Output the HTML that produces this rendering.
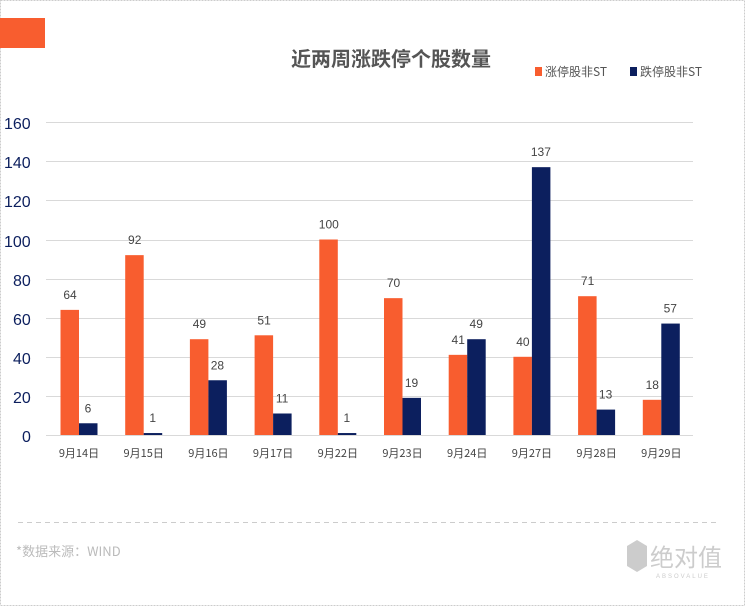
<!DOCTYPE html><html><head><meta charset="utf-8"><style>
body{margin:0;width:745px;height:606px;overflow:hidden;background:#fff;font-family:"Liberation Sans","Noto Sans CJK SC",sans-serif}
</style></head><body>
<svg width="745" height="606" xmlns="http://www.w3.org/2000/svg" font-family="Liberation Sans, Noto Sans CJK SC, sans-serif">
<rect x="0.5" y="0.5" width="744" height="605" fill="#fff" stroke="#ccc" stroke-dasharray="2,1"/>
<rect x="0" y="18" width="45" height="30" fill="#f85d2f"/>
<text x="391" y="66" font-size="20" font-weight="bold" fill="#555" text-anchor="middle" font-family="Noto Sans CJK SC, sans-serif">近两周涨跌停个股数量</text>
<rect x="535" y="67" width="7" height="9" fill="#f85d2f"/>
<text x="545" y="76" font-size="12" fill="#555" font-family="Noto Sans CJK SC, sans-serif">涨停股非ST</text>
<rect x="630" y="67" width="7" height="9" fill="#0c1f5e"/>
<text x="640" y="76" font-size="12" fill="#555" font-family="Noto Sans CJK SC, sans-serif">跌停股非ST</text>
<g stroke="#d9d9d9" stroke-width="1">
<line x1="46" x2="693" y1="122.5" y2="122.5"/><line x1="46" x2="693" y1="161.5" y2="161.5"/><line x1="46" x2="693" y1="200.5" y2="200.5"/><line x1="46" x2="693" y1="240.5" y2="240.5"/><line x1="46" x2="693" y1="279.5" y2="279.5"/><line x1="46" x2="693" y1="318.5" y2="318.5"/><line x1="46" x2="693" y1="357.5" y2="357.5"/><line x1="46" x2="693" y1="396.5" y2="396.5"/><line x1="46" x2="693" y1="435.5" y2="435.5"/>
</g>
<g font-size="16" fill="#0c1f5e">
<text x="4" y="129">160</text><text x="4" y="168">140</text><text x="4" y="207">120</text><text x="4" y="247">100</text><text x="13" y="286">80</text><text x="13" y="325">60</text><text x="13" y="364">40</text><text x="13" y="403">20</text><text x="22" y="442">0</text>
</g>
<g id="bars" font-size="12" fill="#444" text-anchor="middle"></g>
<line x1="18" x2="716" y1="522.5" y2="522.5" stroke="#ccc" stroke-dasharray="5,4"/>
<text x="16" y="556" font-size="13" fill="#bbb" font-family="Noto Sans CJK SC, sans-serif">*数据来源：WIND</text>
<polygon points="637,540 647,546 647,566 637,572 627,566 627,546" fill="#ccc"/>
<text x="650" y="566" font-size="24" fill="#ccc" font-family="Noto Sans CJK SC, sans-serif">绝对值</text>
<text x="656" y="578" font-size="6" fill="#ccc" letter-spacing="2">ABSOVALUE</text>
</svg>
<script>
var o=[64,92,49,51,100,70,41,40,71,18],n=[6,1,28,11,1,19,49,137,13,57],l=["9月14日","9月15日","9月16日","9月17日","9月22日","9月23日","9月24日","9月27日","9月28日","9月29日"];
var g=document.getElementById('bars'),s='';
for(var i=0;i<10;i++){var c=79+64.7*i,ho=o[i]*1.955,hn=n[i]*1.955;
s+='<rect x="'+(c-18.5)+'" y="'+(435-ho)+'" width="18.5" height="'+ho+'" fill="#f85d2f"/>';
s+='<rect x="'+c+'" y="'+(435-hn)+'" width="18.5" height="'+hn+'" fill="#0c1f5e"/>';
s+='<text x="'+(c-9)+'" y="'+(435-ho-11)+'">'+o[i]+'</text>';
s+='<text x="'+(c+9)+'" y="'+(435-hn-11)+'">'+n[i]+'</text>';
s+='<text x="'+c+'" y="457" font-size="11" font-family="Noto Sans CJK SC, sans-serif">'+l[i]+'</text>';}
g.innerHTML=s;
</script>
</body></html>
